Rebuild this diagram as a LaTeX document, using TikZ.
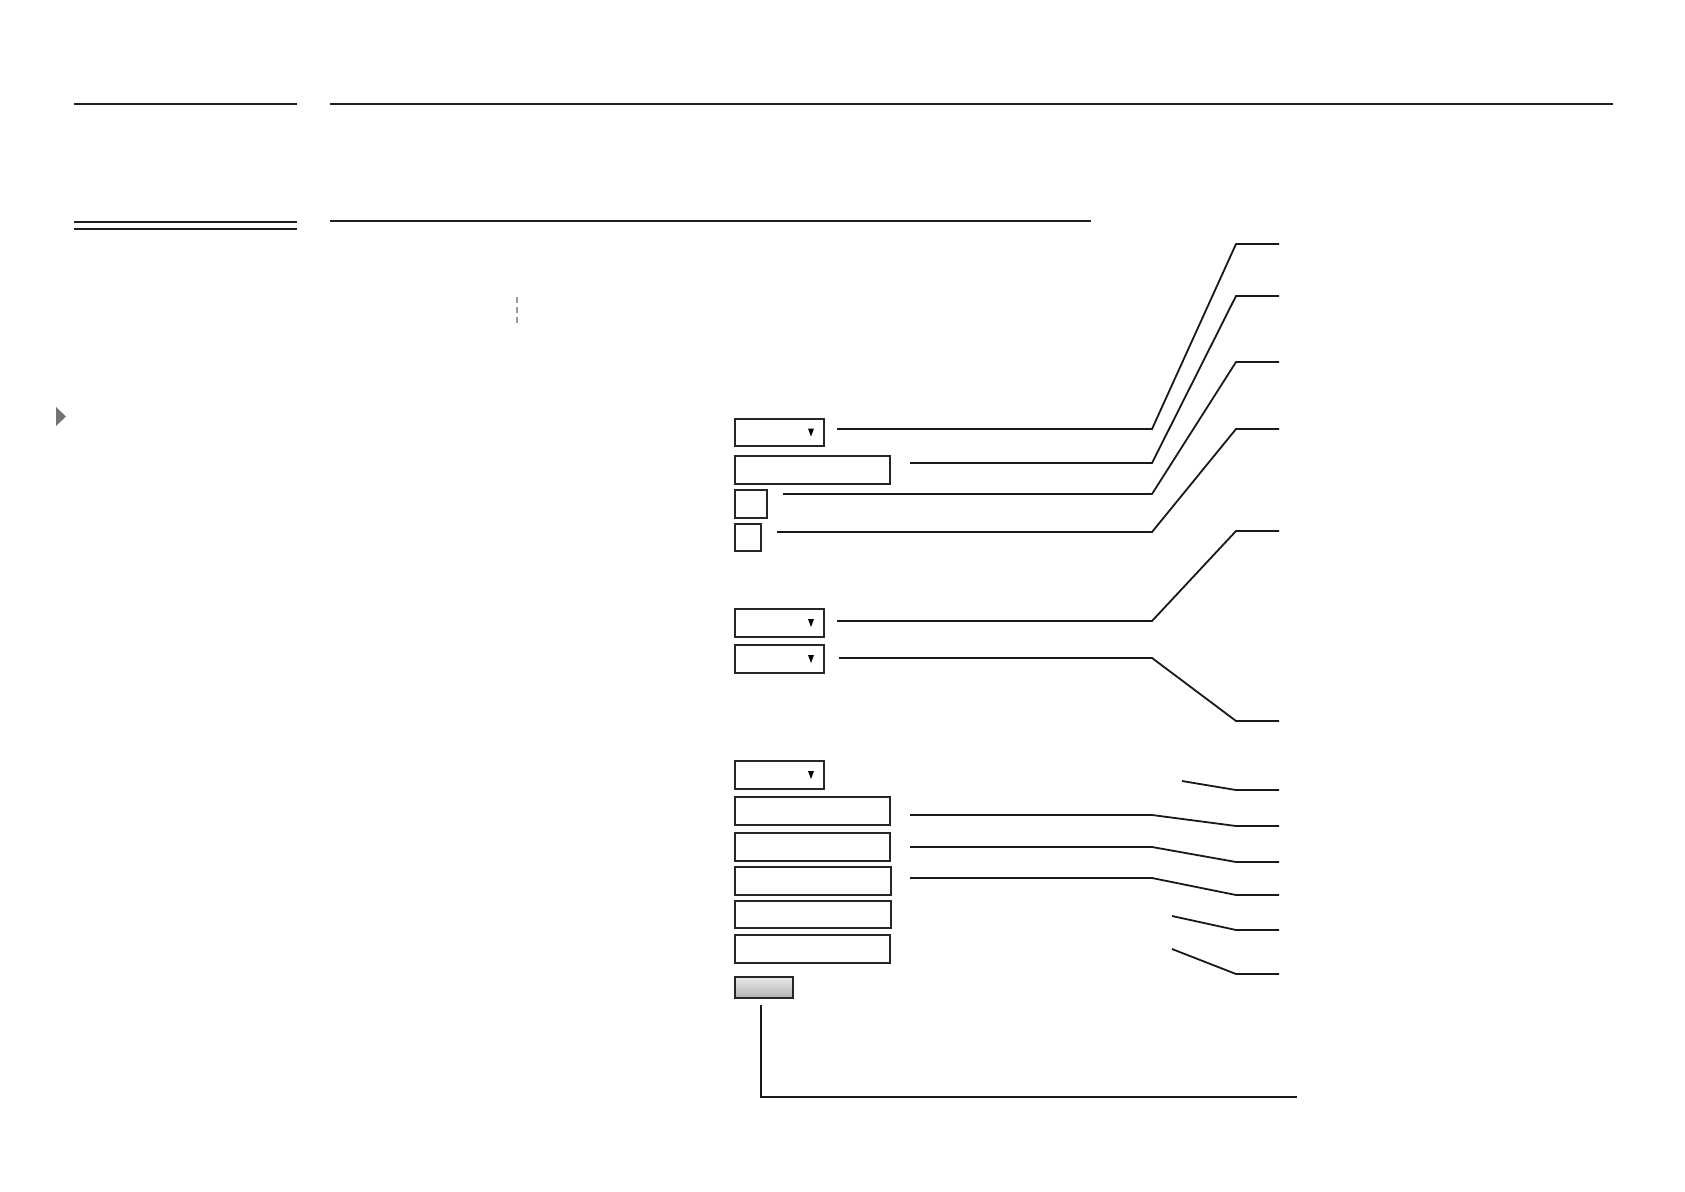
\documentclass[tikz,border=0pt]{standalone}
\usetikzlibrary{positioning}
\begin{document}
\begin{tikzpicture}[x=1pt,y=-1pt,
  rule/.style={line width=2pt,draw=black!88},
  box/.style={draw=black!85,line width=2pt,fill=white,inner sep=0pt,anchor=north west,rectangle},
  btn/.style={box,top color=white!92!black,bottom color=black!30},
  conn/.style={line width=1.8pt,draw=black!90,line join=miter},
  tri/.style={fill=black}]
\useasboundingbox (0,0) rectangle (1685,1191);
\fill[white] (0,0) rectangle (1685,1191);
% header rules
\coordinate (r1a) at (74,104); \coordinate (r1b) at (297,104);
\coordinate (r2a) at (330,104); \coordinate (r2b) at (1613,104);
\coordinate (r3a) at (74,222); \coordinate (r3b) at (297,222);
\coordinate (r4a) at (74,229); \coordinate (r4b) at (297,229);
\coordinate (r5a) at (330,221); \coordinate (r5b) at (1091,221);
\draw[rule] (r1a) -- (r1b);
\draw[rule] (r2a) -- (r2b);
\draw[rule] (r3a) -- (r3b);
\draw[rule] (r4a) -- (r4b);
\draw[rule] (r5a) -- (r5b);
% dashed vertical
\coordinate (dva) at (517,297); \coordinate (dvb) at (517,323);
\draw[black!40,line width=1.4pt,dash pattern=on 6pt off 4pt] (dva) -- (dvb);
% gray triangle
\fill[black!55] (56,407) -- (66,416.5) -- (56,426) -- cycle;
% boxes
\node[box,minimum width=89pt,minimum height=27pt] (dd1) at (734,418) {};
\node[box,minimum width=155pt,minimum height=28pt] (tb1) at (734,455) {};
\node[box,minimum width=32pt,minimum height=28pt] (cb1) at (734,489) {};
\node[box,minimum width=26pt,minimum height=27pt] (cb2) at (734,523) {};
\node[box,minimum width=89pt,minimum height=28pt] (dd2) at (734,608) {};
\node[box,minimum width=89pt,minimum height=28pt] (dd3) at (734,644) {};
\node[box,minimum width=89pt,minimum height=28pt] (dd4) at (734,760) {};
\node[box,minimum width=155pt,minimum height=28pt] (tb2) at (734,796) {};
\node[box,minimum width=155pt,minimum height=28pt] (tb3) at (734,832) {};
\node[box,minimum width=156pt,minimum height=28pt] (tb4) at (734,866) {};
\node[box,minimum width=156pt,minimum height=27pt] (tb5) at (734,900) {};
\node[box,minimum width=155pt,minimum height=28pt] (tb6) at (734,934) {};
\node[btn,minimum width=58pt,minimum height=21pt] (bt) at (734,976) {};
% dropdown arrows (pointing down)
\foreach \n in {dd1,dd2,dd3,dd4}{
  \fill[tri] ([xshift=-17pt,yshift=4pt]\n.east) -- ([xshift=-11pt,yshift=4pt]\n.east) -- ([xshift=-14pt,yshift=-4pt]\n.east) -- cycle;
}
% connectors
\coordinate (s1) at (837,429);  \coordinate (e1) at (1279,244);
\coordinate (s2) at (910,463);  \coordinate (e2) at (1279,296);
\coordinate (s3) at (783,494);  \coordinate (e3) at (1279,362);
\coordinate (s4) at (777,532);  \coordinate (e4) at (1279,429);
\coordinate (s5) at (837,621);  \coordinate (e5) at (1279,531);
\coordinate (s6) at (839,658);  \coordinate (e6) at (1279,721);
\coordinate (s7) at (1182,781); \coordinate (e7) at (1279,790);
\coordinate (s8) at (910,815);  \coordinate (e8) at (1279,826);
\coordinate (s9) at (910,847);  \coordinate (e9) at (1279,862);
\coordinate (s10) at (910,878); \coordinate (e10) at (1279,895);
\coordinate (s11) at (1172,916); \coordinate (e11) at (1279,930);
\coordinate (s12) at (1172,949); \coordinate (e12) at (1279,974);
\coordinate (s13) at (761,1005); \coordinate (e13) at (1297,1097);
\draw[conn] (s1) -- (1152,429) -- (1236,244) -- (e1);
\draw[conn] (s2) -- (1152,463) -- (1236,296) -- (e2);
\draw[conn] (s3) -- (1152,494) -- (1236,362) -- (e3);
\draw[conn] (s4) -- (1152,532) -- (1236,429) -- (e4);
\draw[conn] (s5) -- (1152,621) -- (1236,531) -- (e5);
\draw[conn] (s6) -- (1152,658) -- (1236,721) -- (e6);
\draw[conn] (s7) -- (1236,790) -- (e7);
\draw[conn] (s8) -- (1152,815) -- (1236,826) -- (e8);
\draw[conn] (s9) -- (1152,847) -- (1236,862) -- (e9);
\draw[conn] (s10) -- (1152,878) -- (1236,895) -- (e10);
\draw[conn] (s11) -- (1236,930) -- (e11);
\draw[conn] (s12) -- (1236,974) -- (e12);
\draw[conn] (s13) |- (e13);
\end{tikzpicture}
\end{document}
